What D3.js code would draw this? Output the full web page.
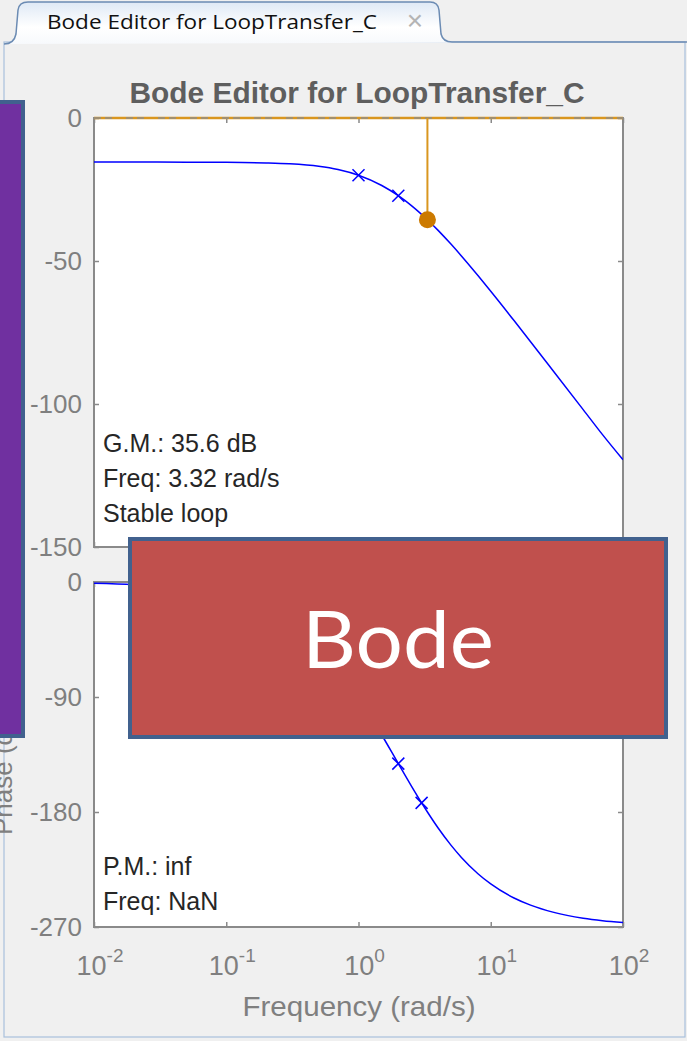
<!DOCTYPE html>
<html>
<head>
<meta charset="utf-8">
<script src="https://d3js.org/d3.v7.min.js"></script>
<style>
  html, body { margin: 0; padding: 0; background: #f0f0f0; }
  svg { display: block; }
  text { font-family: "Liberation Sans", Arial, sans-serif; }
</style>
</head>
<body>
<svg id="chart" width="687" height="1041"></svg>
<script>
// ---- data ----
const freq = [0.01, 0.02, 0.05, 0.1, 0.2, 0.3, 0.5, 0.7, 1, 1.5, 2, 2.5, 3, 3.32, 4, 5, 6, 8, 10, 15, 20, 30, 50, 70, 100];
const magDb = [-15.4, -15.4, -15.45, -15.5, -15.7, -16.0, -16.85, -18.0, -20.0, -23.59, -27.16, -30.54, -33.69, -35.56, -39.29, -44.09, -48.24, -55.09, -60.59, -70.83, -78.21, -88.70, -101.96, -110.72, -119.5];
const phaseDeg = [-1.05, -2.10, -5.25, -10.48, -20.84, -30.94, -50.06, -67.41, -90.00, -119.74, -142.13, -159.35, -172.88, -180.00, -192.53, -205.93, -215.54, -228.28, -236.28, -247.29, -252.90, -258.57, -263.13, -265.09, -266.56];
const magMarkFreq = [1, 2];
const magMarkDb = [-20.00, -27.16];
const phaseMarkFreq = [1, 2, 3];
const phaseMarkDeg = [-90.00, -142.13, -172.88];
const gmFreq = 3.32;
const gmMag = -35.56;
const magTicks = [0, -50, -100, -150];
const phaseTicks = [0, -90, -180, -270];
const freqTicks = [0.01, 0.1, 1, 10, 100];
const freqExp = ["-2", "-1", "0", "1", "2"];
const tabTitle = "Bode Editor for LoopTransfer_C";
const chartTitle = "Bode Editor for LoopTransfer_C";
const xLabel = "Frequency (rad/s)";
const yLabelPhase = "Phase (deg)";
const magNotes = ["G.M.: 35.6 dB", "Freq: 3.32 rad/s", "Stable loop"];
const phaseNotes = ["P.M.: inf", "Freq: NaN"];
const overlayText = "Bode";

// ---- layout ----
const svg = d3.select("#chart");
const L = 94, R = 623;
const magTop = 118, magBot = 547;
const phTop = 582, phBot = 927;

const x = d3.scaleLog().domain([0.01, 100]).range([L, R]);
const yMag = d3.scaleLinear().domain([0, -150]).range([magTop, magBot]);
const yPh = d3.scaleLinear().domain([0, -270]).range([phTop, phBot]);

const AX = "#8a8a8a", TXT = "#7f7f7f", BLUE = "#0000ff", ORANGE = "#d9961f", DOT = "#cc7a00";

// ---- tab and panel ----
const defs = svg.append("defs");
const grad = defs.append("linearGradient").attr("id", "tabg").attr("x1", 0).attr("y1", 0).attr("x2", 0).attr("y2", 1);
grad.append("stop").attr("offset", "0%").attr("stop-color", "#dfe9f5");
grad.append("stop").attr("offset", "60%").attr("stop-color", "#ffffff");
grad.append("stop").attr("offset", "100%").attr("stop-color", "#f7f9fc");

svg.append("rect").attr("x", 4).attr("y", 42).attr("width", 681).attr("height", 995)
  .attr("fill", "#f0f0f0").attr("stroke", "#a9c0dc").attr("stroke-width", 1.2);
svg.append("path")
  .attr("d", "M4,44 Q14,44 16,34 L18,10 Q19,2 28,2 L430,2 Q438,2 439,10 L441,34 Q443,42 452,42 L687,42")
  .attr("fill", "url(#tabg)").attr("stroke", "#6b8bb3").attr("stroke-width", 1.5);
svg.append("text").attr("x", 47).attr("y", 29).text(tabTitle)
  .style("font-family", "'Open Sans', sans-serif").attr("font-size", 20)
  .attr("textLength", 330).attr("lengthAdjust", "spacingAndGlyphs").attr("fill", "#111");
svg.append("text").attr("x", 415).attr("y", 30).attr("text-anchor", "middle").text("×")
  .attr("font-size", 28).attr("fill", "#b4b4b4");

// ---- title ----
svg.append("text").attr("x", 357).attr("y", 103).attr("text-anchor", "middle")
  .attr("font-size", 29).attr("font-weight", "bold").attr("fill", "#5e5e5e")
  .attr("textLength", 455).attr("lengthAdjust", "spacingAndGlyphs").text(chartTitle);

// ---- plot backgrounds ----
svg.append("rect").attr("x", L).attr("y", magTop).attr("width", R - L).attr("height", magBot - magTop).attr("fill", "#fff");
svg.append("rect").attr("x", L).attr("y", phTop).attr("width", R - L).attr("height", phBot - phTop).attr("fill", "#fff");

defs.append("clipPath").attr("id", "clipMag").append("rect").attr("x", L).attr("y", magTop - 2).attr("width", R - L).attr("height", magBot - magTop + 2);
defs.append("clipPath").attr("id", "clipPh").append("rect").attr("x", L).attr("y", phTop - 2).attr("width", R - L).attr("height", phBot - phTop + 2);

function styleAxis(g) {
  g.select(".domain").remove();
  g.selectAll(".tick line").attr("stroke", AX).attr("stroke-width", 1.5);
  g.selectAll(".tick text").attr("fill", TXT).attr("font-size", 26)
    .style("font-family", "'Liberation Sans', Arial, sans-serif");
}

function drawAxes(yScale, ticks, top, bot) {
  svg.append("g").attr("transform", `translate(${L},0)`)
    .call(d3.axisLeft(yScale).tickValues(ticks).tickSizeInner(-5).tickSizeOuter(0).tickPadding(12).tickFormat(d => String(d)))
    .call(styleAxis);
  svg.append("g").attr("transform", `translate(${R},0)`)
    .call(d3.axisRight(yScale).tickValues(ticks).tickSizeInner(-5).tickSizeOuter(0).tickFormat(""))
    .call(styleAxis);
  svg.append("g").attr("transform", `translate(0,${top})`)
    .call(d3.axisTop(x).tickValues(freqTicks).tickSizeInner(-5).tickSizeOuter(0).tickFormat(""))
    .call(styleAxis);
  svg.append("g").attr("transform", `translate(0,${bot})`)
    .call(d3.axisBottom(x).tickValues(freqTicks).tickSizeInner(-5).tickSizeOuter(0).tickFormat(""))
    .call(styleAxis);
  svg.append("rect").attr("x", L).attr("y", top).attr("width", R - L).attr("height", bot - top)
    .attr("fill", "none").attr("stroke", AX).attr("stroke-width", 2);
}

drawAxes(yMag, magTicks, magTop, magBot);
drawAxes(yPh, phaseTicks, phTop, phBot);

// x tick labels with superscripts
const xl = svg.append("g");
freqTicks.forEach((f, i) => {
  const t = xl.append("text").attr("x", x(f) + 6).attr("y", 975).attr("text-anchor", "middle")
    .attr("fill", TXT).attr("font-size", 27);
  t.append("tspan").text("10");
  t.append("tspan").attr("dy", -13).attr("font-size", 19).text(freqExp[i]);
});

svg.append("text").attr("x", 359).attr("y", 1016).attr("text-anchor", "middle")
  .attr("font-size", 28).attr("fill", TXT).attr("textLength", 233).attr("lengthAdjust", "spacingAndGlyphs").text(xLabel);

svg.append("text").attr("transform", "translate(12,835) rotate(-90)").attr("text-anchor", "start")
  .attr("font-size", 26).attr("fill", TXT).text(yLabelPhase);

// ---- magnitude plot ----
const gMag = svg.append("g").attr("clip-path", "url(#clipMag)");
gMag.append("line").attr("x1", L).attr("x2", R).attr("y1", yMag(0)).attr("y2", yMag(0))
  .attr("stroke", ORANGE).attr("stroke-width", 2.5);
gMag.append("line").attr("x1", L).attr("x2", R).attr("y1", yMag(0)).attr("y2", yMag(0))
  .attr("stroke", "#8d8d8d").attr("stroke-width", 1.5).attr("stroke-dasharray", "7,4,7,14");

const magLine = d3.line().x((d, i) => x(freq[i])).y(d => yMag(d)).curve(d3.curveMonotoneX);
gMag.append("path").datum(magDb).attr("d", magLine).attr("fill", "none").attr("stroke", BLUE).attr("stroke-width", 1.5);

gMag.append("line").attr("x1", x(gmFreq)).attr("x2", x(gmFreq)).attr("y1", yMag(0)).attr("y2", yMag(gmMag))
  .attr("stroke", ORANGE).attr("stroke-width", 2);

const cross = 6;
function drawCross(g, cx, cy) {
  g.append("path").attr("d", `M${cx - cross},${cy - cross}L${cx + cross},${cy + cross}M${cx - cross},${cy + cross}L${cx + cross},${cy - cross}`)
    .attr("stroke", BLUE).attr("stroke-width", 1.5).attr("fill", "none");
}
magMarkFreq.forEach((f, i) => drawCross(gMag, x(f), yMag(magMarkDb[i])));

gMag.append("circle").attr("cx", x(gmFreq)).attr("cy", yMag(gmMag)).attr("r", 8.5).attr("fill", DOT);

magNotes.forEach((s, i) => {
  svg.append("text").attr("x", 103).attr("y", 452 + i * 35).attr("font-size", 25).attr("fill", "#262626").text(s);
});

// ---- phase plot ----
const gPh = svg.append("g").attr("clip-path", "url(#clipPh)");
const phLine = d3.line().x((d, i) => x(freq[i])).y(d => yPh(d)).curve(d3.curveMonotoneX);
gPh.append("path").datum(phaseDeg).attr("d", phLine).attr("fill", "none").attr("stroke", BLUE).attr("stroke-width", 1.5);
phaseMarkFreq.forEach((f, i) => drawCross(gPh, x(f), yPh(phaseMarkDeg[i])));

phaseNotes.forEach((s, i) => {
  svg.append("text").attr("x", 103).attr("y", 875 + i * 35).attr("font-size", 25).attr("fill", "#262626").text(s);
});

// ---- overlay shapes ----
svg.append("rect").attr("x", -5).attr("y", 102).attr("width", 28).attr("height", 634)
  .attr("fill", "#7030a0").attr("stroke", "#41618e").attr("stroke-width", 4);
svg.append("rect").attr("x", 130).attr("y", 539).attr("width", 536).attr("height", 198)
  .attr("fill", "#c0504d").attr("stroke", "#41618e").attr("stroke-width", 4);
svg.append("text").attr("x", 398).attr("y", 668).attr("text-anchor", "middle")
  .style("font-family", "Lato, 'Open Sans', sans-serif").attr("font-size", 80).attr("fill", "#ffffff")
  .attr("textLength", 192).attr("lengthAdjust", "spacingAndGlyphs").text(overlayText);
</script>
</body>
</html>
